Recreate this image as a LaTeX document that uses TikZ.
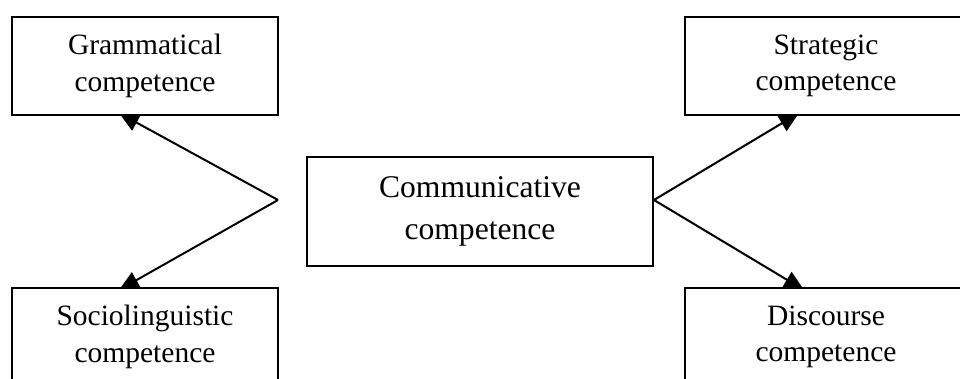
\documentclass[tikz,border=0pt]{standalone}
\usepackage{fontspec}
\setmainfont{Liberation Serif}
\usetikzlibrary{arrows.meta,calc}
\pgfdeclarelayer{back}
\pgfsetlayers{back,main}
\tikzset{
  sidebox/.style={draw, fill=white, line width=2pt, rectangle, inner sep=0pt,
    minimum height=98pt, align=center,
    font=\fontsize{29.5pt}{36.5pt}\selectfont},
  mainbox/.style={draw, fill=white, line width=2pt, rectangle, inner sep=0pt,
    minimum width=346pt, minimum height=109pt, align=center,
    font=\fontsize{31.6pt}{42.5pt}\selectfont},
  arr/.style={line width=2pt, -{Triangle[length=20pt,width=18pt]}}
}
\begin{document}
\begin{tikzpicture}[x=1pt,y=-1pt]
\useasboundingbox (0,0) rectangle (960,379);
\clip (0,0) rectangle (960,379);
\node[sidebox, minimum width=266pt] (gram) at (145,66) {Grammatical\\competence};
\node[sidebox, minimum width=266pt] (socio) at (145,337) {Sociolinguistic\\competence};
\node[sidebox, minimum width=282pt] (strat) at (826,66) {Strategic\\competence};
\node[sidebox, minimum width=282pt] (disc) at (826,337) {Discourse\\competence};
\node[mainbox] (comm) at (480,211.5) {Communicative\\competence};
\coordinate (vL) at (278,200);
\coordinate (vR) at (comm.east |- vL);
\coordinate (tGram) at ($(gram.south west)+(108,-3)$);
\coordinate (tSocio) at ($(socio.north west)+(108,3)$);
\coordinate (tStrat) at ($(strat.south west)+(115,-3)$);
\coordinate (tDisc) at ($(disc.north west)+(120,3)$);
\begin{pgfonlayer}{back}
\draw[arr] (vL) -- (tGram);
\draw[arr] (vL) -- (tSocio);
\draw[arr] (vR) -- (tStrat);
\draw[arr] (vR) -- (tDisc);
\end{pgfonlayer}
\end{tikzpicture}
\end{document}
